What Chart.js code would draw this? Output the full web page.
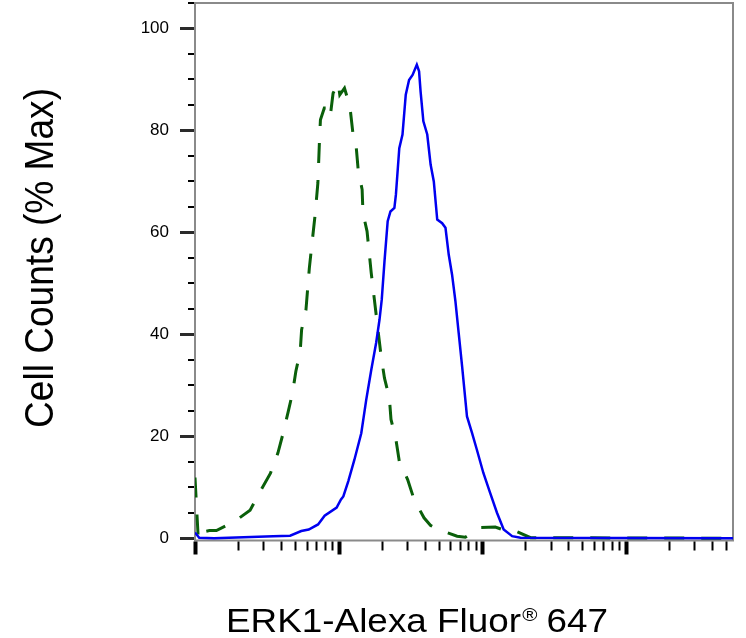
<!DOCTYPE html>
<html>
<head>
<meta charset="utf-8">
<script src="https://cdn.jsdelivr.net/npm/chart.js@4.4.1/dist/chart.umd.min.js"></script>
<style>
  html, body { margin: 0; padding: 0; background: #ffffff; }
  #wrap { width: 746px; height: 638px; }
</style>
</head>
<body>
<div id="wrap"><canvas id="c" width="746" height="638"></canvas></div>
<script>
// ---- data ----
const blueX = [10, 10.7, 13.6, 35, 46, 55, 62, 72, 80, 97, 104, 108, 117, 129, 144, 156, 169, 183, 193, 200, 209, 220, 230, 245, 251, 265, 279, 294, 310, 328, 351, 364, 373, 390, 415, 438, 461, 487, 527, 556, 586, 618, 652, 687, 726, 785, 850, 919, 1021, 1138, 1270, 1414, 1620, 1853, 56000];
const blueY = [1.1, 0.1, 0, 0.4, 0.5, 1.4, 1.7, 2.7, 4.4, 6.0, 7.6, 8.2, 11.2, 15.4, 20.6, 27.2, 33, 38.4, 42.9, 46.8, 54.3, 62.2, 64.1, 64.8, 67.4, 76.5, 79.2, 87, 89.9, 90.9, 92.9, 91.6, 87.6, 81.8, 79.2, 73.3, 70, 62.5, 61.8, 60.9, 55.6, 51.7, 46.5, 40.3, 33.7, 23.9, 20.7, 17.4, 12.8, 8.9, 5.0, 1.7, 0.4, 0.1, 0];

const greenX = [10, 10.5, 11.0, 11.6, 12.6, 14.1, 18.9, 24.2, 28.5, 33.5, 37.8, 41.2, 44.4, 47.8, 50.4, 54.1, 55.3, 59.3, 62.6, 65.0, 68.7, 71.8, 73.6, 74.8, 79.6, 84.5, 87.5, 91.6, 99.5, 102, 110, 120, 126, 133, 137, 146, 148, 158, 169, 176, 188, 198, 209, 226, 232, 251, 265, 303, 336, 394, 438, 500, 670, 764, 919, 968, 1236, 1452, 1706, 2178, 56000];
const greenY = [11.9, 0.7, 2.3, 1.3, 1.5, 1.5, 3.3, 5.5, 9.2, 12.7, 16.7, 20.7, 24.6, 28.5, 32.7, 36.7, 40.9, 44.8, 53, 57.3, 63.5, 69.7, 77.8, 82.1, 84.4, 84.4, 82.7, 87.3, 89.3, 87, 88.3, 84.7, 79.4, 76.5, 72.3, 68.4, 63.8, 60.2, 52, 47.8, 41, 35.7, 31.4, 27.5, 23.3, 19.4, 15.1, 11.5, 7.6, 4, 2.5, 1.7, 0.4, 0.2, 1.7, 2.1, 2.2, 1.5, 1.4, 0.1, 0];

const yTickValues = [0, 20, 40, 60, 80, 100];
const yMinorStep = 5;
const xDecades = [10, 100, 1000, 10000];
const yTitle = 'Cell Counts (% Max)';
const xTitleMain = 'ERK1-Alexa Fluor';
const xTitleSup = '\u00AE';
const xTitleEnd = ' 647';

const toPoints = (xs, ys) => xs.map((x, i) => ({ x: x, y: ys[i] }));

const FONT = '"Liberation Sans", Arial, sans-serif';

const decor = {
  id: 'decor',
  beforeDatasetsDraw(chart) {
    const { ctx, chartArea: a } = chart;
    ctx.save();
    ctx.strokeStyle = '#8a8a8a';
    ctx.lineWidth = 2;
    ctx.strokeRect(a.left, a.top, a.right - a.left, a.bottom - a.top);
    ctx.restore();
  },
  afterDraw(chart) {
    const { ctx, chartArea: a, scales } = chart;
    const x = scales.x, y = scales.y;
    ctx.save();
    // y minor ticks
    ctx.strokeStyle = '#000';
    ctx.lineWidth = 2;
    for (let v = yMinorStep; v <= y.max + 0.01; v += yMinorStep) {
      if (v % 20 === 0) continue;
      const py = Math.round(y.getPixelForValue(v));
      ctx.beginPath(); ctx.moveTo(a.left - 7, py); ctx.lineTo(a.left - 1, py); ctx.stroke();
    }
    // x ticks (log decades + minors)
    for (const d of xDecades) {
      for (let m = 1; m <= 9; m++) {
        const v = m * d;
        if (v > x.max) break;
        const px = Math.round(x.getPixelForValue(v)) + 0.5;
        const major = m === 1;
        ctx.lineWidth = major ? 4 : 2;
        ctx.beginPath();
        ctx.moveTo(px, a.bottom + 1);
        ctx.lineTo(px, a.bottom + (major ? 14 : 10));
        ctx.stroke();
      }
    }
    // y title
    ctx.fillStyle = '#000';
    ctx.save();
    ctx.translate(53, 258);
    ctx.rotate(-Math.PI / 2);
    ctx.font = '40px ' + FONT;
    const wy = ctx.measureText(yTitle).width;
    ctx.scale(340 / wy, 1);
    ctx.textAlign = 'center';
    ctx.textBaseline = 'alphabetic';
    ctx.fillText(yTitle, 0, 0);
    ctx.restore();
    // x title with superscript ®
    ctx.save();
    const big = '34px ' + FONT, small = '19px ' + FONT;
    ctx.font = big; const w1 = ctx.measureText(xTitleMain).width;
    ctx.font = small; const w2 = ctx.measureText(xTitleSup).width;
    ctx.font = big; const w3 = ctx.measureText(xTitleEnd).width;
    const total = w1 + w2 + w3;
    const target = 382;
    ctx.translate(226, 631.5);
    ctx.scale(target / total, 1);
    ctx.textAlign = 'left';
    ctx.textBaseline = 'alphabetic';
    ctx.font = big; ctx.fillText(xTitleMain, 0, 0);
    ctx.font = small; ctx.fillText(xTitleSup, w1 + 1, -11);
    ctx.font = big; ctx.fillText(xTitleEnd, w1 + w2, 0);
    ctx.restore();
    ctx.restore();
  }
};

new Chart(document.getElementById('c'), {
  type: 'line',
  data: {
    datasets: [
      {
        label: 'ERK1',
        data: toPoints(blueX, blueY),
        borderColor: '#0000f0',
        borderWidth: 2.5,
        pointRadius: 0,
        tension: 0,
        fill: false,
        order: 0
      },
      {
        label: 'Control',
        data: toPoints(greenX, greenY),
        borderColor: '#0a5f0a',
        borderWidth: 3,
        borderDash: [20, 17],
        pointRadius: 0,
        tension: 0,
        fill: false,
        order: 1
      }
    ]
  },
  options: {
    responsive: false,
    animation: false,
    devicePixelRatio: 1,
    layout: { padding: { top: 3, right: 13, left: 0, bottom: 0 } },
    plugins: { legend: { display: false }, tooltip: { enabled: false }, title: { display: false } },
    scales: {
      x: {
        type: 'logarithmic',
        min: 10,
        max: 56000,
        grid: { display: false },
        border: { display: false },
        ticks: { display: false },
        afterFit: s => { s.height = 97.5; s.paddingLeft = 0; s.paddingRight = 0; }
      },
      y: {
        type: 'linear',
        min: -0.45,
        max: 105,
        afterBuildTicks: s => { s.ticks = yTickValues.map(v => ({ value: v })); },
        grid: { drawOnChartArea: false, drawTicks: true, tickLength: 15, tickWidth: 3, tickColor: '#2a2a2a' },
        border: { display: false },
        ticks: {
          padding: 11,
          color: '#000',
          font: { family: FONT, size: 17 },
          callback: v => String(v)
        },
        afterFit: s => { s.width = 195; s.paddingTop = 0; s.paddingBottom = 0; }
      }
    }
  },
  plugins: [decor]
});
</script>
</body>
</html>
